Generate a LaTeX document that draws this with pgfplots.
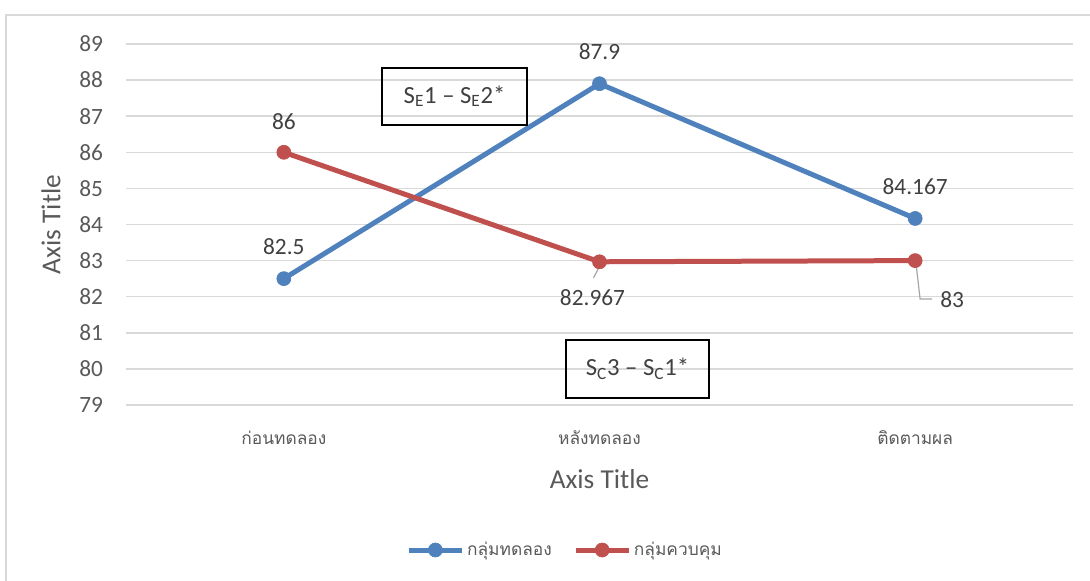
\documentclass[border=0pt]{standalone}
\usepackage{fontspec}
\setmainfont{Carlito}
\newfontfamily\thaifont[Script=Thai]{Loma}
\usepackage{pgfplots}
\pgfplotsset{compat=1.18}
\usepackage{pgfplotstable}
\definecolor{blueC}{HTML}{4F81BD}
\definecolor{redC}{HTML}{C0504D}
\definecolor{gridC}{HTML}{D9D9D9}
\definecolor{txtC}{HTML}{595959}
\definecolor{lblC}{HTML}{404040}
\definecolor{leadC}{HTML}{A6A6A6}

\pgfplotstableread{
x y label dx dy
0 82.5 82.5 0 32
1 87.9 87.9 0 32
2 84.167 84.167 0 32
}\bluetab
\pgfplotstableread{
x y label dx dy
0 86 86 0 31
1 82.967 82.967 -7 -36
2 83 83 37 -39
}\redtab

\begin{document}
\begin{tikzpicture}
\path[use as bounding box] (0,0) rectangle (817.5pt,435.75pt);
\draw[color=gridC, line width=1.1pt] (4.5pt,0) -- (4.5pt,424.5pt) -- (817.5pt,424.5pt);
\begin{axis}[
  at={(94.5pt,132pt)}, anchor=south west,
  scale only axis, width=710.25pt, height=270.75pt,
  xmin=-0.5, xmax=2.5, ymin=79, ymax=89,
  xtick={0,1,2},
  xticklabels={ก่อนทดลอง,หลังทดลอง,ติดตามผล},
  ytick={79,80,...,89},
  axis line style={draw=none},
  tick style={draw=none},
  ymajorgrids,
  grid style={color=gridC, line width=1.1pt},
  clip=false,
  /pgf/number format/assume math mode=true,
  yticklabel style={anchor=east, inner sep=0pt, xshift=-17pt, font=\fontsize{17.5}{20}\selectfont, text=txtC},
  xticklabel style={anchor=center, inner sep=0pt, yshift=-24.75pt, font=\thaifont\fontsize{13}{16}\selectfont, text=txtC},
  xlabel={Axis Title},
  ylabel={Axis Title},
  xlabel style={at={(axis description cs:0.5,-0.205)}, anchor=center, font=\fontsize{20.5}{24}\selectfont, text=txtC},
  ylabel style={at={(axis description cs:-0.0792,0.5)}, anchor=center, font=\fontsize{20.5}{24}\selectfont, text=txtC},
  legend style={at={(axis description cs:0.464,-0.4017)}, anchor=center, draw=none, fill=none,
    font=\thaifont\fontsize{13}{16}\selectfont, text=txtC,
    /tikz/every even column/.append style={column sep=14pt}},
  legend columns=2,
  legend image code/.code={\draw[mark repeat=2,mark phase=2] plot coordinates {(0cm,0cm)(0.7cm,0cm)(1.4cm,0cm)};},
]
\addplot[color=blueC, line width=3.75pt, mark=*, mark size=5.25pt, mark options={solid, line width=0.5pt},
  nodes near coords, point meta=explicit symbolic,
  visualization depends on={\thisrow{dx} \as \dx},
  visualization depends on={\thisrow{dy} \as \dy},
  every node near coord/.append style={anchor=center, inner sep=0pt, xshift=\dx*0.75pt, yshift=\dy*0.75pt, font=\fontsize{17.5}{20}\selectfont, text=lblC}]
  table[x=x, y=y, meta=label]{\bluetab};
\addlegendentry{กลุ่มทดลอง}
\addplot[color=redC, line width=3.75pt, mark=*, mark size=5.25pt, mark options={solid, line width=0.5pt},
  nodes near coords, point meta=explicit symbolic,
  visualization depends on={\thisrow{dx} \as \dx},
  visualization depends on={\thisrow{dy} \as \dy},
  every node near coord/.append style={anchor=center, inner sep=0pt, xshift=\dx*0.75pt, yshift=\dy*0.75pt, font=\fontsize{17.5}{20}\selectfont, text=lblC}]
  table[x=x, y=y, meta=label]{\redtab};
\addlegendentry{กลุ่มควบคุม}
\draw[color=leadC, line width=0.9pt] (axis cs:2,83) ++(0.5pt,-1pt) -- ++(3.2pt,-27.8pt) -- ++(9pt,0pt);
\draw[color=leadC, line width=0.9pt] (axis cs:1,82.967) ++(1.5pt,-0.75pt) -- ++(-6pt,-11.25pt);
\end{axis}
\node[draw=black, line width=1.1pt, minimum width=108.75pt, minimum height=42.75pt, inner sep=0pt,
  font=\fontsize{18.5}{22}\selectfont, text=lblC] at (340.9pt,363.4pt) {S\textsubscript{E}1 – S\textsubscript{E}2*};
\node[draw=black, line width=1.1pt, minimum width=107.25pt, minimum height=43.5pt, inner sep=0pt,
  font=\fontsize{18.5}{22}\selectfont, text=lblC] at (478.1pt,159pt) {S\textsubscript{C}3 – S\textsubscript{C}1*};
\end{tikzpicture}
\end{document}
